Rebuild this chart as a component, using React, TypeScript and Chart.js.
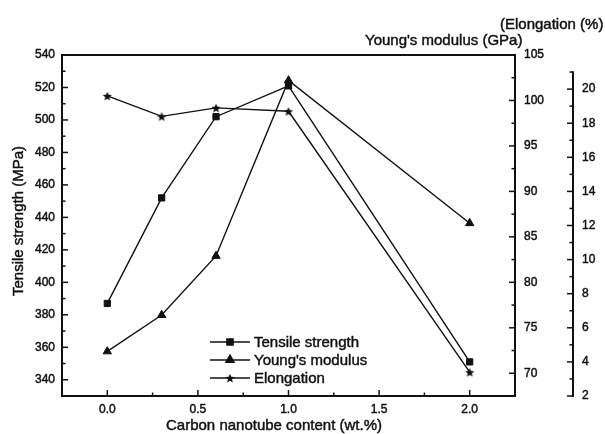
import { useEffect, useRef } from 'react';
import { Chart, registerables } from 'chart.js';
import { drawPoint } from 'chart.js/helpers';

Chart.register(...registerables);

// Carbon nanotube content (wt.%)
const contents = [0, 0.3, 0.6, 1.0, 2.0];
// Tensile strength (MPa)
const tensileStrength = [387, 452, 502, 521, 351];
// Young's modulus (GPa)
const youngsModulus = [72.4, 76.4, 82.9, 102.2, 86.5];
// Elongation (%)
const elongation = [19.6, 18.4, 18.9, 18.7, 3.4];

const xTicks = [0, 0.5, 1.0, 1.5, 2.0];
const tensileTicks = [340, 360, 380, 400, 420, 440, 460, 480, 500, 520, 540];
const modulusTicks = [70, 75, 80, 85, 90, 95, 100, 105];
const elongationTicks = [2, 4, 6, 8, 10, 12, 14, 16, 18, 20];

const seriesNames = ['Tensile strength', "Young's modulus", 'Elongation'];

const FONT = '"Liberation Sans", Arial, Helvetica, sans-serif';
const INK = '#111';
const TEXT_STROKE = 0.45;

function makeStar(r: number): HTMLCanvasElement {
  const size = Math.ceil(r * 2 + 2);
  const c = document.createElement('canvas');
  c.width = size;
  c.height = size;
  const g = c.getContext('2d')!;
  g.translate(size / 2, size / 2 + 0.6);
  g.beginPath();
  for (let i = 0; i < 10; i++) {
    const rr = i % 2 === 0 ? r : r * 0.45;
    const a = -Math.PI / 2 + (i * Math.PI) / 5;
    g.lineTo(rr * Math.cos(a), rr * Math.sin(a));
  }
  g.closePath();
  g.fillStyle = INK;
  g.fill();
  return c;
}

function minorValues(ticks: number[], min: number, max: number): number[] {
  const out: number[] = [];
  for (let i = 0; i < ticks.length - 1; i++) out.push((ticks[i] + ticks[i + 1]) / 2);
  const half = (ticks[1] - ticks[0]) / 2;
  const before = ticks[0] - half;
  const after = ticks[ticks.length - 1] + half;
  if (before > min + 1e-9) out.push(before);
  if (after < max - 1e-9) out.push(after);
  return out;
}

function boldText(ctx: CanvasRenderingContext2D, text: string, x: number, y: number) {
  ctx.fillText(text, x, y);
  ctx.lineWidth = TEXT_STROKE;
  ctx.strokeText(text, x, y);
}

const framePlugin = {
  id: 'frame',
  afterDraw(chart: any) {
    const { ctx, chartArea: a, scales } = chart;
    const x = scales.x;
    const y = scales.y;
    const y1 = scales.y1;
    const y2 = scales.y2;
    ctx.save();
    ctx.strokeStyle = INK;
    ctx.fillStyle = INK;

    // box around plot area
    ctx.lineWidth = 2;
    ctx.strokeRect(a.left, a.top, a.right - a.left, a.bottom - a.top);

    // separate elongation axis
    const ex = y2.left;
    ctx.beginPath();
    ctx.moveTo(ex, y2.getPixelForValue(21.05));
    ctx.lineTo(ex, y2.getPixelForValue(2) + 1);
    ctx.stroke();

    ctx.lineWidth = 1.5;
    const major = 6;
    const minor = 3.5;
    const vTicks = (scale: any, px: number, dir: number, majors: number[]) => {
      const minors = minorValues(majors, scale.min, scale.max);
      majors.forEach((v) => {
        const py = scale.getPixelForValue(v);
        ctx.beginPath();
        ctx.moveTo(px, py);
        ctx.lineTo(px + dir * major, py);
        ctx.stroke();
      });
      minors.forEach((v) => {
        const py = scale.getPixelForValue(v);
        ctx.beginPath();
        ctx.moveTo(px, py);
        ctx.lineTo(px + dir * minor, py);
        ctx.stroke();
      });
    };
    vTicks(y, a.left, 1, tensileTicks);
    vTicks(y1, a.right, -1, modulusTicks);
    vTicks(y2, ex, -1, elongationTicks);

    const xMinors = minorValues(xTicks, x.min, x.max);
    xTicks.forEach((v) => {
      const px = x.getPixelForValue(v);
      ctx.beginPath();
      ctx.moveTo(px, a.bottom);
      ctx.lineTo(px, a.bottom - major);
      ctx.stroke();
    });
    xMinors.forEach((v) => {
      const px = x.getPixelForValue(v);
      ctx.beginPath();
      ctx.moveTo(px, a.bottom);
      ctx.lineTo(px, a.bottom - minor);
      ctx.stroke();
    });

    // axis titles
    ctx.font = `15px ${FONT}`;
    ctx.textBaseline = 'middle';
    ctx.textAlign = 'center';
    boldText(ctx, 'Carbon nanotube content (wt.%)', 274, 426);
    ctx.save();
    ctx.translate(19, 221);
    ctx.rotate(-Math.PI / 2);
    boldText(ctx, 'Tensile strength (MPa)', 0, 0);
    ctx.restore();
    ctx.textAlign = 'left';
    boldText(ctx, "Young's modulus (GPa)", 365, 41);
    boldText(ctx, '(Elongation (%)', 500, 25);

    // legend
    const lx0 = 210;
    const lx1 = 250;
    const ly0 = 342;
    const step = 18;
    chart.data.datasets.forEach((ds: any, i: number) => {
      const ly = ly0 + i * step;
      ctx.lineWidth = ds.borderWidth;
      ctx.strokeStyle = ds.borderColor;
      ctx.beginPath();
      ctx.moveTo(lx0, ly);
      ctx.lineTo(lx1, ly);
      ctx.stroke();
      drawPoint(
        ctx,
        {
          pointStyle: ds.pointStyle,
          radius: ds.pointRadius,
          rotation: 0,
          borderWidth: 1,
        },
        (lx0 + lx1) / 2,
        ly
      );
      ctx.fillStyle = INK;
      ctx.strokeStyle = INK;
      boldText(ctx, ds.label, 254, ly + 0.5);
    });
    ctx.restore();
  },
};

export default function App() {
  const canvasRef = useRef<HTMLCanvasElement | null>(null);

  useEffect(() => {
    const canvas = canvasRef.current;
    if (!canvas) return;
    Chart.defaults.font.family = FONT;
    Chart.defaults.color = INK;
    const star = makeStar(4.8);
    const pts = (ys: number[]) => contents.map((c, i) => ({ x: c, y: ys[i] }));
    const lineStyle = {
      borderColor: INK,
      backgroundColor: INK,
      pointBackgroundColor: INK,
      pointBorderColor: INK,
      borderWidth: 1.4,
      pointBorderWidth: 1,
      tension: 0,
      fill: false,
    };
    const tickOpts = (padding: number, extra: any = {}) => ({
      font: { size: 12, family: FONT },
      color: INK,
      padding,
      textStrokeColor: INK,
      textStrokeWidth: TEXT_STROKE,
      ...extra,
    });
    const chart = new Chart(canvas, {
      type: 'line',
      data: {
        datasets: [
          {
            ...lineStyle,
            label: seriesNames[0],
            data: pts(tensileStrength),
            yAxisID: 'y',
            pointStyle: 'rect',
            pointRadius: 4.4,
          },
          {
            ...lineStyle,
            label: seriesNames[1],
            data: pts(youngsModulus),
            yAxisID: 'y1',
            pointStyle: 'triangle',
            pointRadius: 4.8,
          },
          {
            ...lineStyle,
            label: seriesNames[2],
            data: pts(elongation),
            yAxisID: 'y2',
            pointStyle: star as any,
            pointRadius: 4.8,
          },
        ],
      },
      options: {
        animation: false,
        responsive: true,
        maintainAspectRatio: false,
        layout: { padding: { top: 55, left: 0, right: 0, bottom: 0 } },
        plugins: { legend: { display: false }, tooltip: { enabled: false } },
        scales: {
          x: {
            type: 'linear',
            position: 'bottom',
            min: -0.25,
            max: 2.25,
            afterBuildTicks: (s: any) => {
              s.ticks = xTicks.map((value) => ({ value }));
            },
            afterFit: (s: any) => {
              s.height = 38;
            },
            ticks: tickOpts(6, {
              maxRotation: 0,
              callback: (v: any) => Number(v).toFixed(1),
            }),
            grid: { display: false, drawTicks: false },
            border: { display: false },
          },
          y: {
            type: 'linear',
            position: 'left',
            min: 330,
            max: 540,
            afterBuildTicks: (s: any) => {
              s.ticks = tensileTicks.map((value) => ({ value }));
            },
            afterFit: (s: any) => {
              s.width = 62;
            },
            ticks: tickOpts(7),
            grid: { display: false, drawTicks: false },
            border: { display: false },
          },
          y1: {
            type: 'linear',
            position: 'right',
            weight: 0,
            min: 67.5,
            max: 105,
            afterBuildTicks: (s: any) => {
              s.ticks = modulusTicks.map((value) => ({ value }));
            },
            afterFit: (s: any) => {
              s.width = 58;
            },
            ticks: tickOpts(9),
            grid: { display: false, drawTicks: false },
            border: { display: false },
          },
          y2: {
            type: 'linear',
            position: 'right',
            weight: 1,
            min: 2,
            max: 22,
            afterBuildTicks: (s: any) => {
              s.ticks = elongationTicks.map((value) => ({ value }));
            },
            afterFit: (s: any) => {
              s.width = 32;
            },
            ticks: tickOpts(9),
            grid: { display: false, drawTicks: false },
            border: { display: false },
          },
        },
      },
      plugins: [framePlugin],
    } as any);
    return () => chart.destroy();
  }, []);

  return (
    <div
      style={{
        position: 'absolute',
        left: 0,
        top: 0,
        width: 605,
        height: 434,
        background: '#fff',
      }}
    >
      <canvas ref={canvasRef} />
    </div>
  );
}
